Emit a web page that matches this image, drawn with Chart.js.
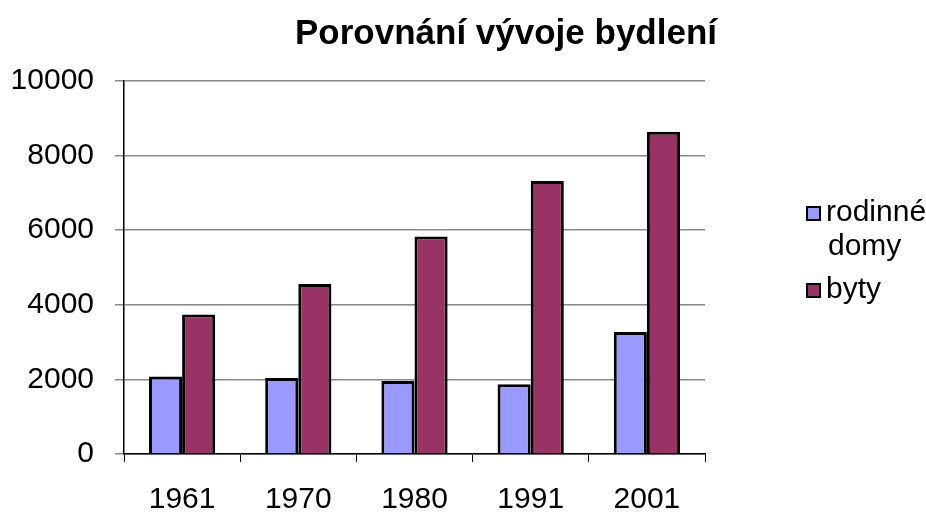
<!DOCTYPE html>
<html>
<head>
<meta charset="utf-8">
<script src="https://cdn.jsdelivr.net/npm/chart.js@4"></script>
<style>
  body { margin: 0; background: #fff; overflow: hidden; }
  #wrap { width: 926px; height: 515px; }
</style>
</head>
<body>
<div id="wrap"><canvas id="mycanvas" width="926" height="515"></canvas></div>
<script>
var years = ["1961", "1970", "1980", "1991", "2001"];
var rodinneDomy = [2080, 2040, 1960, 1870, 3270];
var byty = [3740, 4560, 5830, 7320, 8640];
var seriesNames = [["rodinné", "domy"], ["byty"]];
var yTicks = [0, 2000, 4000, 6000, 8000, 10000];

var FONT = "'Liberation Sans', Arial, sans-serif";

// title + legend drawn by hand (legend label wraps onto two lines)
var extras = {
    id: "extras",
    afterDraw: function(chart)
    {
        var ctx = chart.ctx;
        ctx.save();
        ctx.fillStyle = "#000";
        ctx.font = "bold 35px " + FONT;
        ctx.textAlign = "center";
        ctx.textBaseline = "middle";
        ctx.fillText("Porovnání vývoje bydlení", 506, 34);

        ctx.font = "30px " + FONT;
        ctx.textAlign = "left";
        var y = 213;
        chart.data.datasets.forEach(function(ds, i)
        {
            ctx.fillStyle = ds.backgroundColor;
            ctx.fillRect(807, y - 6, 13, 13);
            ctx.strokeStyle = "#000";
            ctx.lineWidth = 2;
            ctx.strokeRect(807, y - 6, 13, 13);
            ctx.fillStyle = "#000";
            seriesNames[i].forEach(function(line, j)
            {
                ctx.fillText(line, j === 0 ? 826 : 828, y + j * 34);
            });
            y += seriesNames[i].length * 34 + 9;
        });
        ctx.restore();
    }
};

var chartdata =
{
    labels: years,
    datasets:
    [{
        label: "rodinné domy",
        backgroundColor: "#9999FF",
        borderColor: "#000",
        borderWidth: 3,
        data: rodinneDomy
    },
    {
        label: "byty",
        backgroundColor: "#993366",
        borderColor: "#000",
        borderWidth: 3,
        data: byty
    }]
};

var ctx = document.getElementById("mycanvas");

var BarGraph = new Chart(ctx,
{
    type: "bar",
    data: chartdata,
    plugins: [extras],
    options:
    {
        responsive: false,
        animation: false,
        layout: { padding: { left: 0, right: 221, top: 81, bottom: 0 } },
        plugins: { legend: { display: false }, title: { display: false }, tooltip: { enabled: false } },
        datasets: { bar: { categoryPercentage: 0.57, barPercentage: 1.0 } },
        scales:
        {
            x:
            {
                afterFit: function(axis) { axis.height = 61; },
                grid: { offset: true, drawOnChartArea: false, drawTicks: true, tickLength: 8, color: "#000" },
                border: { color: "#000", width: 1.5 },
                ticks: { color: "#000", font: { family: FONT, size: 30, lineHeight: 1.2 }, padding: 20 }
            },
            y:
            {
                min: yTicks[0],
                max: yTicks[yTicks.length - 1],
                afterBuildTicks: function(axis) { axis.ticks = yTicks.map(function(v) { return { value: v }; }); },
                afterFit: function(axis) { axis.width = 124; },
                grid: { color: "#888", lineWidth: 1.5, tickLength: 9 },
                border: { color: "#000", width: 1.5 },
                ticks: { color: "#000", font: { family: FONT, size: 30 }, padding: 21,
                         callback: function(v) { return String(v); } }
            }
        }
    }
});
</script>
</body>
</html>
